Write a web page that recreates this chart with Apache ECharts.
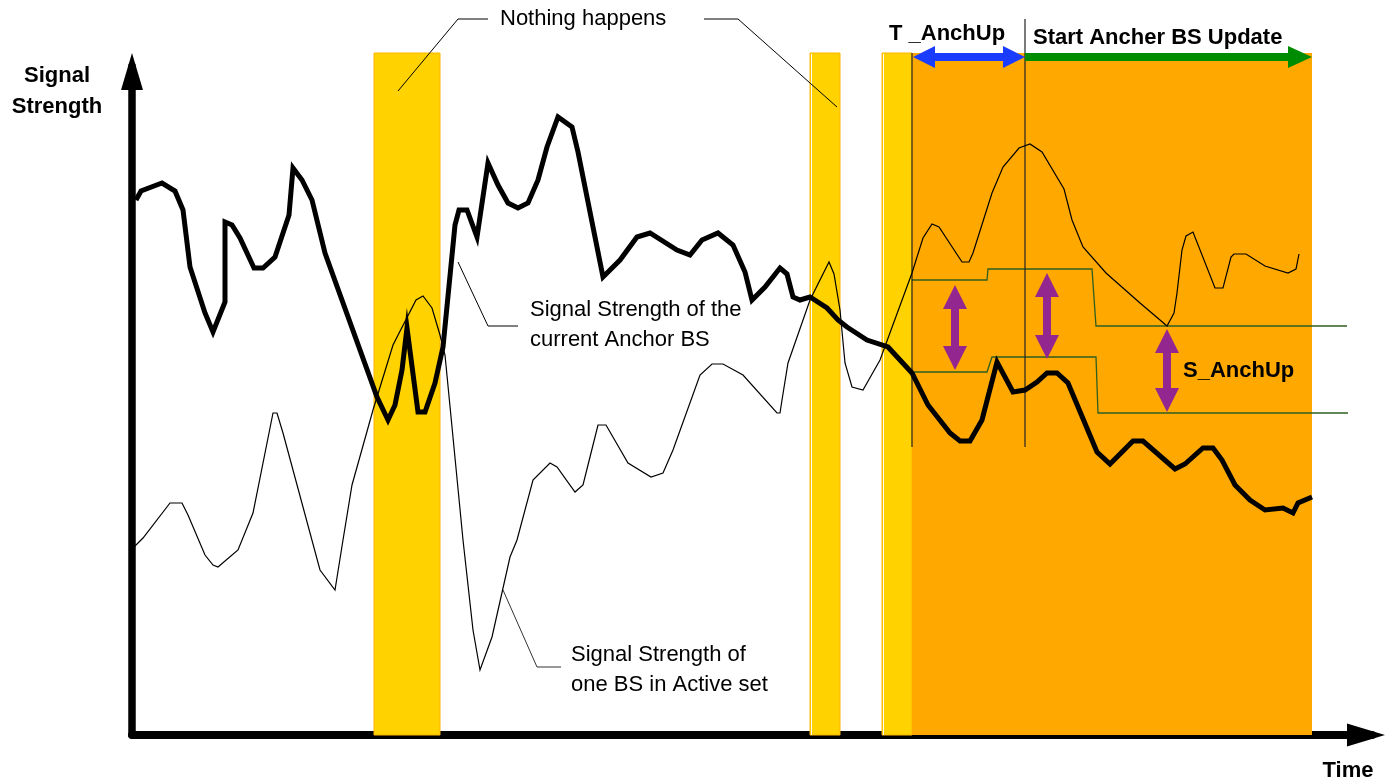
<!DOCTYPE html>
<html><head><meta charset="utf-8">
<script src="https://cdn.jsdelivr.net/npm/echarts@6/dist/echarts.min.js"></script>
<style>html,body{margin:0;padding:0;background:#fff}#c{width:1387px;height:782px}</style>
</head><body><div id="c"></div>
<script>
// ---- data (arbitrary time / signal units) ----
const anchorBS = [[4,535],[9,544],[30,552],[43,544],[51,525],[58,468],[73,422],[81,403],[93,433],[93,513],[100,510],[108,497],[122,467],[131,467],[143,478],[157,520],[161,567],[170,555],[180,535],[193,482],[245,338],[256,315],[263,330],[270,365],[275,407],[286,323],[293,323],[303,352],[311,388],[323,510],[327,525],[335,525],[345,498],[356,572],[366,550],[376,532],[386,527],[396,532],[406,555],[415,588],[426,618],[440,608],[446,583],[471,458],[488,475],[505,498],[518,502],[545,485],[558,480],[570,495],[586,502],[601,490],[613,463],[620,435],[633,448],[648,467],[655,461],[661,438],[668,435],[678,438],[695,427],[706,415],[715,408],[735,395],[756,388],[780,362],[796,330],[818,302],[828,294],[838,294],[850,315],[865,373],[881,343],[893,345],[905,353],[915,362],[925,362],[936,352],[965,283],[978,271],[1001,294],[1011,294],[1043,266],[1053,271],[1071,287],[1081,287],[1090,275],[1103,250],[1118,235],[1133,225],[1151,227],[1161,222],[1166,232],[1180,238]];
const activeBS = [[1,187],[11,197],[38,232],[50,232],[56,220],[73,180],[81,170],[86,168],[106,185],[121,222],[141,322],[145,322],[151,302],[188,165],[203,145],[211,195],[220,250],[241,325],[261,390],[284,435],[291,439],[300,427],[308,400],[313,380],[331,195],[341,105],[348,65],[360,98],[378,178],[385,195],[401,255],[418,272],[425,268],[443,243],[451,250],[458,278],[466,310],[474,310],[496,272],[519,258],[531,262],[541,285],[568,360],[580,371],[591,371],[611,360],[645,322],[648,322],[650,335],[656,372],[678,435],[697,473],[702,461],[708,425],[713,372],[720,348],[731,345],[748,375],[780,462],[791,497],[800,511],[807,508],[830,473],[837,473],[841,482],[860,542],[871,568],[887,587],[898,591],[910,583],[932,546],[940,515],[951,488],[974,462],[1008,432],[1028,415],[1035,409],[1042,422],[1045,442],[1050,485],[1054,499],[1061,503],[1083,447],[1091,447],[1099,478],[1102,481],[1114,481],[1133,469],[1156,462],[1164,466],[1167,481]];
const upperThreshold = [[780,455],[855,455],[856,466],[960,466],[964,409],[1215,409]];
const lowerThreshold = [[780,363],[855,363],[860,378],[964,378],[966,322],[1216,322]];
const yellowBands = [[242,308],[678,708],[750,780]];
const updateBand = [[780,1180]];
const bandTop = 682;
const timeMarkers = [[[780,288],[780,682]],[[893,288],[893,716]]];
const leaderNothingL = [[266,644],[326,716],[356,716]];
const leaderNothingR = [[572,716],[606,716],[705,628]];
const leaderAnchor = [[326,473],[356,409],[386,409]];
const leaderActive = [[371,145],[405,68],[429,68]];
const tAnchUpArrow = [[781,678,893,678]];
const updateArrow = [[893,678,1180,678]];
const sAnchUpArrows = [[823,450,823,365],[915,462,915,376],[1035,406,1035,323]];

// ---- chart ----
const FONT = '"Liberation Sans", Arial, sans-serif';
function lineSeries(data, color, width, z) {
  return {type:'line', data, symbol:'none', clip:false, silent:true, z,
    lineStyle:{color, width, join:'miter'}};
}
function bandSeries(data, fill, stroke, innerWhite, z) {
  return {
    type:'custom', data, z, clip:false, silent:true,
    renderItem(params, api) {
      const a = api.coord([api.value(0), bandTop]);
      const b = api.coord([api.value(1), 0]);
      const ch = [{type:'rect', shape:{x:a[0], y:a[1], width:b[0]-a[0], height:b[1]-a[1]},
        style:{fill, stroke, lineWidth: stroke ? 1 : 0}}];
      if (innerWhite && params.dataIndex > 0) {
        ch.push({type:'line', shape:{x1:a[0]+1.5, y1:a[1]+1, x2:a[0]+1.5, y2:b[1]}, style:{stroke:'#fff', lineWidth:1}});
      }
      return {type:'group', children:ch};
    }
  };
}
function arrowSeries(data, color, shaft, headLen, headW, both) {
  return {
    type:'custom', data, z:10, clip:false, silent:true,
    renderItem(params, api) {
      const p1 = api.coord([api.value(0), api.value(1)]);
      const p2 = api.coord([api.value(2), api.value(3)]);
      const dx = p2[0]-p1[0], dy = p2[1]-p1[1];
      const L = Math.hypot(dx, dy), ux = dx/L, uy = dy/L, nx = -uy, ny = ux;
      const s = both ? [p1[0]+ux*headLen*0.8, p1[1]+uy*headLen*0.8] : p1;
      const e = [p2[0]-ux*headLen*0.8, p2[1]-uy*headLen*0.8];
      const head = (t, ax, ay) => ({type:'polygon', shape:{points:[
        [t[0], t[1]],
        [t[0]-ax*headLen+nx*headW/2, t[1]-ay*headLen+ny*headW/2],
        [t[0]-ax*headLen-nx*headW/2, t[1]-ay*headLen-ny*headW/2]]}, style:{fill:color}});
      const ch = [{type:'line', shape:{x1:s[0], y1:s[1], x2:e[0], y2:e[1]}, style:{stroke:color, lineWidth:shaft}}, head(p2, ux, uy)];
      if (both) ch.push(head(p1, -ux, -uy));
      return {type:'group', children:ch};
    }
  };
}

function txt(text, x, y, bold, align, lh) {
  return {type:'text', x, y, z:100, style:{text, font:(bold?'bold ':'')+'22px '+FONT, fill:'#000', textAlign:align||'left', textVerticalAlign:'middle', lineHeight:lh||22}};
}

const chart = echarts.init(document.getElementById('c'));
chart.setOption({
  animation:false,
  grid:{left:132, right:15, top:66, bottom:47},
  xAxis:{type:'value', min:0, max:1240,
    axisLine:{show:true, onZero:false, symbol:['none','path://M11.5,0 L23,38 L0,38 Z'], symbolSize:[23,38], symbolOffset:[0,-6], lineStyle:{color:'#000', width:8}},
    axisTick:{show:false}, axisLabel:{show:false}, splitLine:{show:false}},
  yAxis:{type:'value', min:0, max:669,
    axisLine:{show:true, onZero:false, symbol:['none','path://M11,0 L22,37 L0,37 Z'], symbolSize:[22,37], symbolOffset:[0,-5.5], lineStyle:{color:'#000', width:7.5}},
    axisTick:{show:false}, axisLabel:{show:false}, splitLine:{show:false}},
  series:[
    bandSeries(yellowBands, '#FFD200', '#FFB400', true, 1),
    bandSeries(updateBand, '#FFA800', null, false, 2),
    lineSeries(upperThreshold, '#2F5F1F', 1.3, 3),
    lineSeries(lowerThreshold, '#2F5F1F', 1.3, 3),
    lineSeries(timeMarkers[0], '#222', 1.2, 3),
    lineSeries(timeMarkers[1], '#222', 1.2, 3),
    lineSeries(leaderNothingL, '#000', 1, 3),
    lineSeries(leaderNothingR, '#000', 1, 3),
    lineSeries(leaderAnchor, '#000', 1, 3),
    lineSeries(leaderActive, '#333', 1, 3),
    lineSeries(activeBS, '#000', 1.2, 4),
    lineSeries(anchorBS, '#000', 5, 5),
    arrowSeries(tAnchUpArrow, '#1A3CFF', 8, 22, 22, true),
    arrowSeries(updateArrow, '#008C00', 8, 24, 22, false),
    arrowSeries(sAnchUpArrows, '#93278F', 8, 24, 24, true)
  ],
  graphic:[
    txt('Signal\nStrength', 57, 91, true, 'center', 31),
    txt('Time', 1348, 771, true, 'center'),
    txt('T _AnchUp', 889, 34, true),
    txt('Start Ancher BS Update', 1033, 38, true),
    txt('S_AnchUp', 1183, 371, true),
    txt('Nothing happens', 500, 19, false),
    txt('Signal Strength of the\ncurrent Anchor BS', 530, 325, false, 'left', 30),
    txt('Signal Strength of\none BS in Active set', 571, 670, false, 'left', 30)
  ]
});
</script></body></html>
